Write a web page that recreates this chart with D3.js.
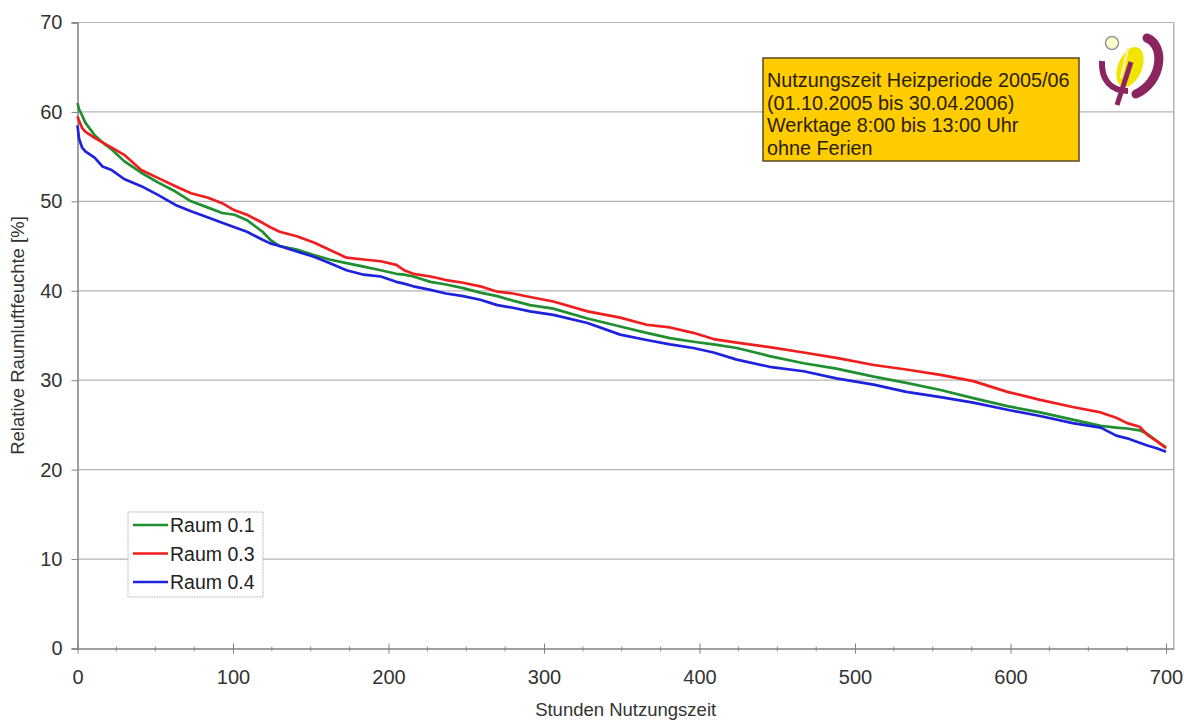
<!DOCTYPE html>
<html><head><meta charset="utf-8">
<script src="https://cdn.jsdelivr.net/npm/d3@7"></script>
<style>body{margin:0;background:#fff}svg{display:block;font-family:"Liberation Sans",Arial,sans-serif}</style>
</head><body><svg id="c" width="1184" height="722"></svg>
<script>
const hours = [0,1,3,5,11,16,22,30,41,52,63,73,84,93,101,109,119,124,130,141,152,162,173,184,195,205,210,216,227,237,248,259,270,280,291,306,328,349,366,381,396,409,424,445,467,488,512,533,555,576,598,619,640,658,668,675,683,688,694,700];
const raum01 = [61.0,60.3,59.6,58.8,57.4,56.6,55.8,54.5,53.2,52.1,51.1,50.0,49.3,48.7,48.5,47.9,46.6,45.7,45.0,44.6,44.0,43.5,43.1,42.7,42.3,41.9,41.8,41.6,41.0,40.7,40.3,39.8,39.4,38.9,38.4,38.0,36.9,36.0,35.3,34.7,34.3,34.0,33.6,32.7,31.9,31.3,30.4,29.7,28.9,28.0,27.1,26.4,25.6,24.9,24.7,24.6,24.4,24.0,23.2,22.5];
const raum03 = [59.5,59.0,58.2,57.8,57.1,56.6,56.0,55.2,53.5,52.6,51.7,50.9,50.4,49.8,49.0,48.5,47.6,47.1,46.6,46.1,45.4,44.6,43.7,43.5,43.3,42.9,42.3,41.9,41.6,41.2,40.9,40.5,39.9,39.7,39.3,38.8,37.7,37.0,36.2,35.9,35.3,34.6,34.2,33.7,33.1,32.5,31.7,31.2,30.6,29.9,28.7,27.8,27.0,26.4,25.8,25.2,24.8,23.9,23.2,22.4];
const raum04 = [58.5,57.0,56.0,55.6,54.9,53.9,53.5,52.5,51.7,50.7,49.6,48.9,48.2,47.6,47.1,46.6,45.7,45.3,45.0,44.4,43.8,43.1,42.3,41.8,41.6,41.0,40.8,40.5,40.1,39.7,39.4,39.0,38.4,38.1,37.7,37.3,36.4,35.1,34.5,34.0,33.6,33.1,32.3,31.5,31.0,30.2,29.5,28.7,28.1,27.5,26.7,26.0,25.2,24.7,23.8,23.5,23.0,22.7,22.4,22.0];
const seriesNames = ["Raum 0.1","Raum 0.3","Raum 0.4"];
const seriesValues = [raum01, raum03, raum04];
const seriesColors = ["#1f8f2f","#f01e1e","#1e22dc"];
const xTicks = [0,100,200,300,400,500,600,700];
const yTicks = [0,10,20,30,40,50,60,70];
const noteLines = ["Nutzungszeit Heizperiode 2005/06","(01.10.2005 bis 30.04.2006)","Werktage 8:00 bis 13:00 Uhr","ohne Ferien"];
const xTitle = "Stunden Nutzungszeit";
const yTitle = "Relative Raumluftfeuchte [%]";

const svg = d3.select("#c");
const L=77.5, R=1173.8, T=22.5, B=648.5;
const x = d3.scaleLinear().domain([0,705]).range([L,R]);
const y = d3.scaleLinear().domain([0,70]).range([B,T]);

// gridlines
svg.append("g").selectAll("line").data(yTicks.filter(d=>d>0)).join("line")
  .attr("x1",L).attr("x2",R).attr("y1",d=>y(d)).attr("y2",d=>y(d))
  .attr("stroke","#b4b4b4").attr("stroke-width",1.2);
svg.append("line").attr("x1",R).attr("x2",R).attr("y1",T).attr("y2",B).attr("stroke","#a0a0a0").attr("stroke-width",1.2);

// y axis
const ya = svg.append("g").attr("transform",`translate(${L},0)`)
  .call(d3.axisLeft(y).tickValues(yTicks).tickSize(6).tickPadding(9));
ya.select(".domain").attr("stroke","#808080").attr("stroke-width",1.5);
ya.selectAll(".tick line").attr("stroke","#808080");
ya.selectAll("text").attr("font-size",20).attr("fill","#333").attr("font-family","Liberation Sans, Arial");

// x axis
const minor = d3.range(0,701,25).filter(d=>d%100!==0);
svg.append("g").selectAll("line").data(minor).join("line")
  .attr("x1",d=>x(d)).attr("x2",d=>x(d)).attr("y1",B-2).attr("y2",B+3)
  .attr("stroke","#909090");
const xa = svg.append("g").attr("transform",`translate(0,${B})`)
  .call(d3.axisBottom(x).tickValues(xTicks).tickSize(5).tickPadding(16).tickSizeOuter(0));
xa.select(".domain").attr("stroke","#808080").attr("stroke-width",1.5);
xa.selectAll(".tick line").attr("stroke","#808080").attr("y1",-5);
xa.selectAll("text").attr("font-size",20).attr("fill","#333").attr("font-family","Liberation Sans, Arial");

// titles
svg.append("text").attr("x",(L+R)/2).attr("y",716).attr("text-anchor","middle")
  .attr("font-size",18.5).attr("fill","#333").text(xTitle);
svg.append("text").attr("transform",`translate(24,${(T+B)/2}) rotate(-90)`).attr("text-anchor","middle")
  .attr("font-size",18.5).attr("fill","#333").text(yTitle);

// lines
const line = d3.line().x((d,i)=>x(hours[i])).y(d=>y(d));
svg.append("g").selectAll("path").data(seriesValues).join("path")
  .attr("d",d=>line(d)).attr("fill","none")
  .attr("stroke",(d,i)=>seriesColors[i]).attr("stroke-width",2.7).attr("stroke-linejoin","round");

// legend
const lg = svg.append("g");
lg.append("rect").attr("x",128).attr("y",512).attr("width",135).attr("height",85)
  .attr("fill","#fff").attr("stroke","#b0b0b0").attr("stroke-dasharray","1.5,1");
seriesNames.forEach((n,i)=>{
  const cy = 525 + i*28.5;
  lg.append("line").attr("x1",133).attr("x2",168).attr("y1",cy).attr("y2",cy)
    .attr("stroke",seriesColors[i]).attr("stroke-width",2.6);
  lg.append("text").attr("x",170).attr("y",cy+7).attr("font-size",19.5).attr("fill","#222").text(n);
});

// annotation box
const nb = svg.append("g");
nb.append("rect").attr("x",763).attr("y",58).attr("width",316).attr("height",103)
  .attr("fill","#ffcc00").attr("stroke","#5a4a20").attr("stroke-width",1.5);
noteLines.forEach((t,i)=>{
  nb.append("text").attr("x",767).attr("y",87+i*22.5).attr("font-size",19.8).attr("fill","#2a2000").text(t);
});

// logo
const lo = svg.append("g");
lo.append("ellipse").attr("cx",1130).attr("cy",67).attr("rx",12).attr("ry",21)
  .attr("transform","rotate(22,1130,67)").attr("fill","#f0e400");
lo.append("path").attr("d","M1147,38 C1166,46 1162,82 1136,94").attr("fill","none").attr("stroke","#8b2560").attr("stroke-width",9).attr("stroke-linecap","round");
lo.append("path").attr("d","M1102,61 C1101,80 1111,91 1128,91").attr("fill","none").attr("stroke","#8b2560").attr("stroke-width",6);
lo.append("path").attr("d","M1131,62 L1117,105").attr("fill","none").attr("stroke","#8b2560").attr("stroke-width",5);
lo.append("path").attr("d","M1128,48 L1121,78").attr("fill","none").attr("stroke","#f8f2a8").attr("stroke-width",2.5);
lo.append("circle").attr("cx",1112).attr("cy",43).attr("r",6.5).attr("fill","#ffffcc").attr("stroke","#999").attr("stroke-width",1.5);
</script></body></html>
